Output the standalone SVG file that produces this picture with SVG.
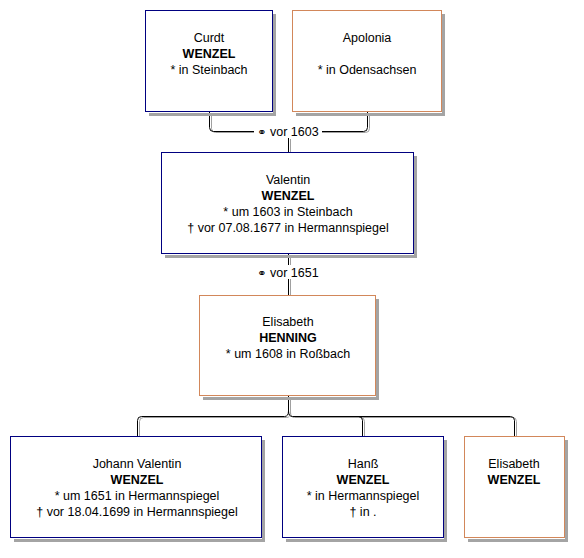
<svg xmlns="http://www.w3.org/2000/svg" width="584" height="558" viewBox="0 0 584 558">
<style>
text{font-family:"Liberation Sans",Arial,sans-serif;font-size:12.5px;fill:#000;text-anchor:middle}
.b{font-weight:bold}
.sym{font-family:"DejaVu Sans",sans-serif;font-size:11px}
.sh{fill:none;stroke:#a4a4a4;stroke-width:3}
</style>
<rect width="584" height="558" fill="#ffffff"/>
<g id="connectors" fill="none" stroke-width="1">
  <g transform="translate(2,1)" stroke="#a0a0a0">
    <path d="M209.5,112 V127.5 Q209.5,131.5 213.5,131.5 H363.5 Q367.5,131.5 367.5,127.5 V112"/>
    <path d="M288.5,138 V152"/>
    <path d="M288.5,254 V295"/>
    <path d="M288.5,396 V411 Q288.5,416.5 284.5,416.5 H141.5 Q137.5,416.5 137.5,420.5 V436"/>
    <path d="M288.5,411 Q288.5,416.5 292.5,416.5 H510.5 Q514.5,416.5 514.5,420.5 V436"/>
    <path d="M358.5,416.5 Q362.5,416.5 362.5,420.5 V436"/>
  </g>
  <g stroke="#000000">
    <path d="M209.5,112 V127.5 Q209.5,131.5 213.5,131.5 H363.5 Q367.5,131.5 367.5,127.5 V112"/>
    <path d="M288.5,138 V152"/>
    <path d="M288.5,254 V295"/>
    <path d="M288.5,396 V411 Q288.5,416.5 284.5,416.5 H141.5 Q137.5,416.5 137.5,420.5 V436"/>
    <path d="M288.5,411 Q288.5,416.5 292.5,416.5 H510.5 Q514.5,416.5 514.5,420.5 V436"/>
    <path d="M358.5,416.5 Q362.5,416.5 362.5,420.5 V436"/>
  </g>
  <rect x="254" y="124" width="68" height="14" fill="#ffffff" stroke="none"/>
  <text x="288" y="136" stroke="none"><tspan class="sym">⚭</tspan> vor 1603</text>
  <rect x="254" y="265" width="68" height="14" fill="#ffffff" stroke="none"/>
  <text x="288" y="277" stroke="none"><tspan class="sym">⚭</tspan> vor 1651</text>
</g>
<g id="curdt">
  <path class="sh" d="M149,114.5 H274.5 V14"/>
  <rect x="145.5" y="10.5" width="127" height="101" fill="#ffffff" stroke="#000080"/>
  <text x="209" y="42">Curdt</text>
  <text class="b" x="209" y="58">WENZEL</text>
  <text x="209" y="74">* in Steinbach</text>
</g>
<g id="apolonia">
  <path class="sh" d="M296,114.5 H443.5 V14"/>
  <rect x="292.5" y="10.5" width="149" height="101" fill="#ffffff" stroke="#d2875a"/>
  <text x="367" y="42">Apolonia</text>
  <text x="367" y="74">* in Odensachsen</text>
</g>
<g id="valentin">
  <path class="sh" d="M165,256.5 H415.5 V156"/>
  <rect x="161.5" y="152.5" width="252" height="101" fill="#ffffff" stroke="#000080"/>
  <text x="288" y="184">Valentin</text>
  <text class="b" x="288" y="200">WENZEL</text>
  <text x="288" y="216">* um 1603 in Steinbach</text>
  <text x="288" y="232">† vor 07.08.1677 in Hermannspiegel</text>
</g>
<g id="elisabeth-henning">
  <path class="sh" d="M203,398.5 H377.5 V299"/>
  <rect x="199.5" y="295.5" width="176" height="100" fill="#ffffff" stroke="#d2875a"/>
  <text x="288" y="326">Elisabeth</text>
  <text class="b" x="288" y="342">HENNING</text>
  <text x="288" y="358">* um 1608 in Roßbach</text>
</g>
<g id="johann-valentin">
  <path class="sh" d="M14,540.5 H263.5 V440"/>
  <rect x="10.5" y="436.5" width="251" height="101" fill="#ffffff" stroke="#000080"/>
  <text x="137" y="468">Johann Valentin</text>
  <text class="b" x="137" y="484">WENZEL</text>
  <text x="137" y="500">* um 1651 in Hermannspiegel</text>
  <text x="137" y="516">† vor 18.04.1699 in Hermannspiegel</text>
</g>
<g id="hanss">
  <path class="sh" d="M286,540.5 H445.5 V440"/>
  <rect x="282.5" y="436.5" width="161" height="101" fill="#ffffff" stroke="#000080"/>
  <text x="363" y="468">Hanß</text>
  <text class="b" x="363" y="484">WENZEL</text>
  <text x="363" y="500">* in Hermannspiegel</text>
  <text x="363" y="516">† in .</text>
</g>
<g id="elisabeth-wenzel">
  <path class="sh" d="M468,540.5 H566.5 V440"/>
  <rect x="464.5" y="436.5" width="100" height="101" fill="#ffffff" stroke="#d2875a"/>
  <text x="514" y="468">Elisabeth</text>
  <text class="b" x="514" y="484">WENZEL</text>
</g>
</svg>
